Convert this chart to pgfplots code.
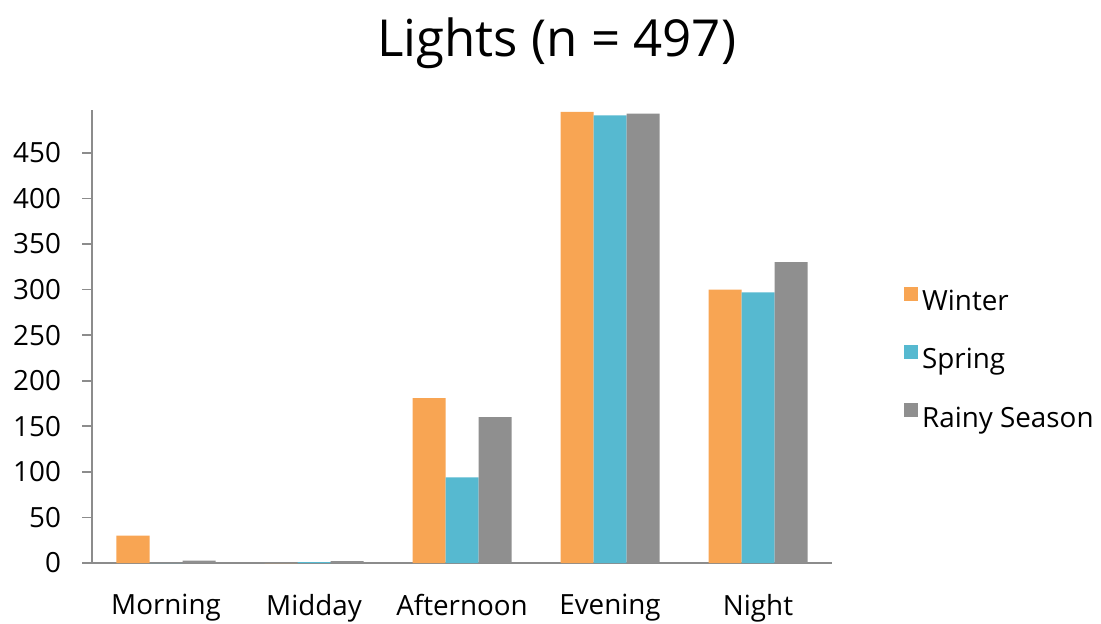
\documentclass[border=0pt]{standalone}
\usepackage{pgfplots}
\pgfplotsset{compat=1.18}
\usepackage{fontspec}
\setmainfont{Open Sans}

\definecolor{winter}{HTML}{F8A553}
\definecolor{spring}{HTML}{56B9D0}
\definecolor{rainy}{HTML}{8F8F8F}
\definecolor{axisgray}{HTML}{8C8C8C}

\begin{document}
\begin{tikzpicture}
\path[use as bounding box] (-46pt,-30pt) rectangle (504.5pt,281.5pt);
\begin{axis}[
  scale only axis,
  width=370pt, height=226.5pt,
  axis lines*=left,
  axis line style={axisgray, line width=0.9pt},
  ybar=0pt, bar width=16.5pt,
  ymin=0, ymax=497,
  xmin=-0.5, xmax=4.5,
  xtick={0,1,2,3,4},
  xticklabels={Morning,Midday,Afternoon,Evening,Night},
  x tick style={draw=none},
  extra x ticks={-0.5,0.5,1.5,2.5,3.5,4.5},
  extra x tick labels={},
  extra x tick style={tick style={draw=axisgray, line width=0.9pt}, tick align=outside, major tick length=5pt},
  ytick={0,50,...,450},
  y tick style={axisgray, line width=0.9pt},
  tick align=outside, major tick length=5pt,
  /pgf/number format/assume math mode=true,
  ticklabel style={font=\fontsize{13.9}{16}\selectfont, black},
  xticklabel style={yshift=-7pt},
  yticklabel style={xshift=-7pt},
  title={Lights (n = 497)},
  title style={at={(axis description cs:0.628,1.12)}, anchor=center, font=\fontsize{25.5}{29}\selectfont},
  legend style={at={(axis description cs:1.097,0.448)}, anchor=west, draw=none, fill=none,
    font=\fontsize{13.9}{16}\selectfont, row sep=13.5pt, inner sep=0pt},
  legend cell align=left,
  legend image code/.code={\fill[#1, draw=none] (0pt,0.5pt) rectangle (7pt,7.5pt);},
]
\addplot[draw=none, fill=winter] coordinates {(0,30) (1,0) (2,181) (3,495) (4,300)};
\addplot[draw=none, fill=spring] coordinates {(0,0) (1,1) (2,94) (3,491) (4,297)};
\addplot[draw=none, fill=rainy] coordinates {(0,2.5) (1,2) (2,160) (3,493) (4,330)};
\legend{Winter,Spring,Rainy Season}
\end{axis}
\end{tikzpicture}
\end{document}
